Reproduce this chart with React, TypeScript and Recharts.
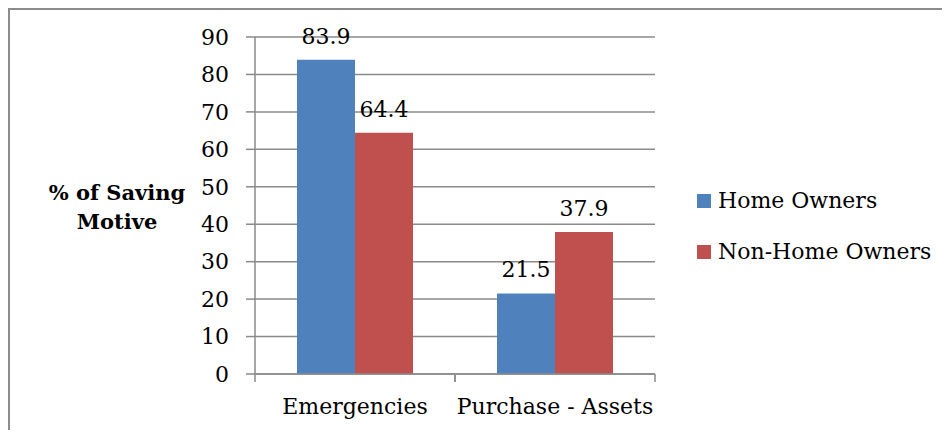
import { BarChart, Bar, XAxis, YAxis, CartesianGrid, Legend, LabelList } from 'recharts'

const categories = ['Emergencies', 'Purchase - Assets']
const homeOwners = [83.9, 21.5]
const nonHomeOwners = [64.4, 37.9]
const yTicks = [0, 10, 20, 30, 40, 50, 60, 70, 80, 90]

const seriesNames = ['Home Owners', 'Non-Home Owners']
const seriesColors = ['#4F81BD', '#C0504D']

const data = categories.map((name, i) => ({
  name,
  home: homeOwners[i],
  nonHome: nonHomeOwners[i],
}))

const FONT = '"DejaVu Serif", serif'
const GRID = '#8a8a8a'

const XTick = ({ x, y, payload }: any) => {
  const half = payload?.offset ?? 100
  return (
    <g>
      <line x1={x - half} y1={y} x2={x - half} y2={y + 8} stroke={GRID} strokeWidth={1.5} />
      <line x1={x + half} y1={y} x2={x + half} y2={y + 8} stroke={GRID} strokeWidth={1.5} />
      <text x={x} y={y + 34} textAnchor="middle" dominantBaseline="middle" fontFamily={FONT} fontSize={22} fill="#000">
        {payload.value}
      </text>
    </g>
  )
}

const YLabel = ({ viewBox }: any) => {
  const cy = viewBox.y + viewBox.height / 2
  return (
    <text textAnchor="middle" fontFamily={FONT} fontWeight="bold" fontSize={21} fill="#000">
      <tspan x={107} y={cy - 11} dominantBaseline="middle">% of Saving</tspan>
      <tspan x={107} y={cy + 18} dominantBaseline="middle">Motive</tspan>
    </text>
  )
}

const LegendBox = () => (
  <div style={{ paddingLeft: 42, fontFamily: FONT, fontSize: 22, color: '#000' }}>
    {seriesNames.map((n, i) => (
      <div key={n} style={{ height: 51, display: 'flex', alignItems: 'center' }}>
        <span
          style={{
            width: 14,
            height: 14,
            flexShrink: 0,
            background: seriesColors[i],
            marginRight: 7,
            display: 'inline-block',
          }}
        />
        <span style={{ whiteSpace: 'nowrap' }}>{n}</span>
      </div>
    ))}
  </div>
)

export default function App() {
  return (
    <div style={{ borderTop: '2px solid #8c8c8c', borderLeft: '2px solid #8c8c8c', width: 940, height: 420 }}>
      <style>{'body{overflow:hidden}'}</style>
      <BarChart
        width={940}
        height={420}
        data={data}
        margin={{ top: 27, right: 40, bottom: 6, left: 0 }}
        barCategoryGap="21%"
        barGap={0}
      >
        <CartesianGrid vertical={false} stroke={GRID} strokeWidth={1.5} />
        <XAxis
          dataKey="name"
          height={50}
          tickLine={false}
          tickSize={0}
          tickMargin={0}
          stroke={GRID}
          strokeWidth={1.5}
          tick={<XTick />}
          interval={0}
        />
        <YAxis
          width={245}
          domain={[0, 90]}
          ticks={yTicks}
          tickSize={9}
          tickMargin={17}
          stroke={GRID}
          strokeWidth={1.5}
          tick={{ fill: '#000', fontSize: 22, fontFamily: FONT }}
          label={<YLabel />}
        />
        <Legend
          layout="vertical"
          align="right"
          verticalAlign="middle"
          wrapperStyle={{ width: 255, top: 165 }}
          content={<LegendBox />}
        />
        <Bar dataKey="home" name={seriesNames[0]} fill={seriesColors[0]} isAnimationActive={false}>
          <LabelList dataKey="home" position="top" offset={16} fill="#000" fontSize={22} fontFamily={FONT} />
        </Bar>
        <Bar dataKey="nonHome" name={seriesNames[1]} fill={seriesColors[1]} isAnimationActive={false}>
          <LabelList dataKey="nonHome" position="top" offset={16} fill="#000" fontSize={22} fontFamily={FONT} />
        </Bar>
      </BarChart>
    </div>
  )
}
